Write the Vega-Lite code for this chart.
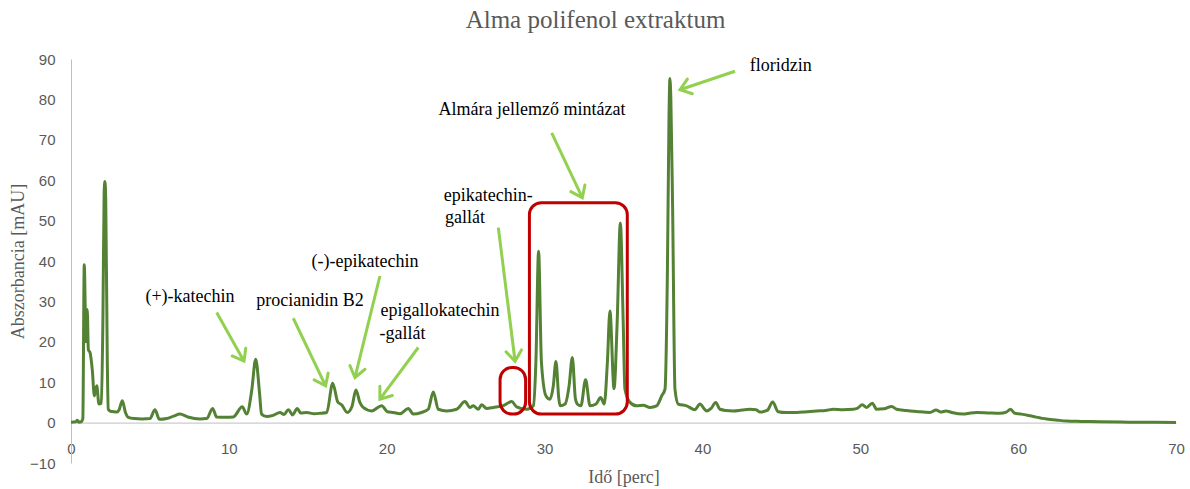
{
"$schema": "https://vega.github.io/schema/vega-lite/v6.json",
"width": 1105,
"height": 404,
"autosize": {"type": "none"},
"padding": {"left": 71, "top": 59, "right": 14, "bottom": 26},
"background": "white",
"config": {
  "view": {"stroke": null},
  "axis": {"grid": false, "ticks": false, "tickSize": 0, "domainColor": "#BFBFBF", "domainWidth": 1, "labelFlush": false,
           "labelFont": "Liberation Sans", "labelFontSize": 15, "labelColor": "#595959",
           "titleFont": "Liberation Serif", "titleFontSize": 18, "titleColor": "#595959", "titleFontWeight": "normal"}
},
"title": {"text": "Alma polifenol extraktum", "font": "Liberation Serif", "fontSize": 25, "fontWeight": "normal", "color": "#595959", "anchor": "middle", "frame": "group", "dx": -28, "offset": 19},
"datasets": {
  "trace": [
    {"t":0,"v":0.1},{"t":0.3,"v":0.2},{"t":0.4,"v":0.6},{"t":0.5,"v":0.1},{"t":0.65,"v":0.2},{"t":0.75,"v":1.0},
    {"t":0.84,"v":39.1},{"t":0.95,"v":20},{"t":1.03,"v":28},{"t":1.1,"v":18},{"t":1.2,"v":17.4},{"t":1.35,"v":13},
    {"t":1.48,"v":6.6},{"t":1.63,"v":9.1},{"t":1.77,"v":4.6},{"t":1.92,"v":4.8},{"t":2.02,"v":25},{"t":2.1,"v":57},
    {"t":2.15,"v":59.7},{"t":2.2,"v":55},{"t":2.3,"v":15},{"t":2.36,"v":3.3},{"t":2.5,"v":2.8},{"t":2.68,"v":2.7},
    {"t":2.9,"v":2.6},{"t":3.05,"v":3.2},{"t":3.25,"v":5.4},{"t":3.45,"v":2.5},{"t":3.63,"v":1.3},{"t":4.0,"v":1.0},
    {"t":4.5,"v":0.9},{"t":5.0,"v":1.0},{"t":5.32,"v":3.2},{"t":5.6,"v":0.8},{"t":6.06,"v":1.0},{"t":6.5,"v":1.6},
    {"t":6.9,"v":2.1},{"t":7.4,"v":1.4},{"t":8.17,"v":0.9},{"t":8.6,"v":1.0},{"t":8.97,"v":3.5},{"t":9.23,"v":1.4},
    {"t":9.8,"v":1.3},{"t":10.28,"v":1.4},{"t":10.85,"v":3.9},{"t":11.13,"v":2.1},{"t":11.45,"v":8},{"t":11.7,"v":15.7},
    {"t":11.95,"v":7},{"t":12.07,"v":2.1},{"t":12.39,"v":1.5},{"t":12.8,"v":1.8},{"t":13.24,"v":2.5},{"t":13.5,"v":2.0},
    {"t":13.77,"v":3.2},{"t":14.04,"v":1.9},{"t":14.33,"v":3.5},{"t":14.55,"v":2.4},{"t":14.93,"v":2.5},{"t":15.4,"v":2.2},
    {"t":15.78,"v":2.3},{"t":16.2,"v":2.5},{"t":16.58,"v":9.75},{"t":16.9,"v":5.1},{"t":17.15,"v":4.4},{"t":17.5,"v":2.5},
    {"t":17.8,"v":4},{"t":18.05,"v":8.1},{"t":18.3,"v":5},{"t":18.51,"v":3.75},{"t":19.05,"v":2.9},{"t":19.68,"v":4.2},
    {"t":20.04,"v":2.7},{"t":20.42,"v":2.5},{"t":20.84,"v":2.2},{"t":21.37,"v":3.5},{"t":21.68,"v":2.1},{"t":22.2,"v":2.5},
    {"t":22.63,"v":3.3},{"t":22.95,"v":7.6},{"t":23.27,"v":3.3},{"t":23.8,"v":2.9},{"t":24.43,"v":3.3},{"t":24.96,"v":5.2},
    {"t":25.27,"v":3.75},{"t":25.48,"v":4.2},{"t":25.8,"v":3.3},{"t":26.01,"v":4.4},{"t":26.33,"v":3.5},{"t":26.75,"v":3.75},
    {"t":27.39,"v":4.2},{"t":27.92,"v":5.2},{"t":28.23,"v":3.9},{"t":28.87,"v":3.3},{"t":29.29,"v":4.2},{"t":29.45,"v":15},
    {"t":29.62,"v":42.4},{"t":29.8,"v":15},{"t":30.09,"v":6.6},{"t":30.34,"v":5.8},{"t":30.55,"v":9},{"t":30.72,"v":15.1},
    {"t":30.9,"v":6},{"t":30.98,"v":4.15},{"t":31.3,"v":4.6},{"t":31.55,"v":9},{"t":31.76,"v":16.1},{"t":31.95,"v":6},
    {"t":32.07,"v":4.6},{"t":32.3,"v":4.15},{"t":32.6,"v":10.6},{"t":32.88,"v":4.15},{"t":33.26,"v":4.6},{"t":33.55,"v":6.2},
    {"t":33.78,"v":4.6},{"t":33.98,"v":15},{"t":34.14,"v":27.6},{"t":34.4,"v":8.4},{"t":34.6,"v":25},{"t":34.8,"v":49.4},
    {"t":34.98,"v":25},{"t":35.09,"v":8.3},{"t":35.41,"v":5},{"t":35.83,"v":4.15},{"t":36.25,"v":4.3},{"t":36.68,"v":3.75},
    {"t":37.1,"v":4.15},{"t":37.42,"v":6.6},{"t":37.63,"v":8.3},{"t":37.78,"v":37},{"t":37.88,"v":75},{"t":37.94,"v":85.2},
    {"t":38.0,"v":80},{"t":38.11,"v":53.5},{"t":38.26,"v":8.3},{"t":38.47,"v":4.6},{"t":39.0,"v":4.15},{"t":39.53,"v":3.2},
    {"t":39.84,"v":4.6},{"t":40.16,"v":3.2},{"t":40.27,"v":2.9},{"t":40.55,"v":3.5},{"t":40.84,"v":5},{"t":41.11,"v":3.3},
    {"t":41.5,"v":3.0},{"t":41.95,"v":2.9},{"t":42.5,"v":3.1},{"t":43.01,"v":3.3},{"t":43.4,"v":3.2},{"t":43.65,"v":2.6},
    {"t":44.1,"v":3.0},{"t":44.45,"v":5.1},{"t":44.8,"v":2.7},{"t":45.3,"v":2.5},{"t":45.97,"v":2.5},{"t":46.6,"v":2.7},
    {"t":47.23,"v":2.9},{"t":47.8,"v":3.0},{"t":48.29,"v":3.3},{"t":48.9,"v":3.2},{"t":49.56,"v":3.3},{"t":49.8,"v":3.5},
    {"t":50.13,"v":4.4},{"t":50.4,"v":3.75},{"t":50.76,"v":4.8},{"t":51.04,"v":3.3},{"t":51.5,"v":3.4},{"t":51.99,"v":4.0},
    {"t":52.3,"v":3.3},{"t":52.9,"v":3.0},{"t":53.57,"v":2.75},{"t":54.41,"v":2.5},{"t":54.8,"v":3.1},{"t":55.1,"v":2.6},
    {"t":55.43,"v":2.9},{"t":55.8,"v":2.5},{"t":56.52,"v":2.1},{"t":57.0,"v":2.4},{"t":57.37,"v":2.5},{"t":58.1,"v":2.4},
    {"t":58.85,"v":2.3},{"t":59.25,"v":2.6},{"t":59.52,"v":3.3},{"t":59.79,"v":2.3},{"t":60.2,"v":2.1},{"t":60.96,"v":1.5},
    {"t":61.8,"v":0.9},{"t":62.5,"v":0.6},{"t":63.07,"v":0.4},{"t":64.0,"v":0.3},{"t":65.2,"v":0.2},{"t":67,"v":0.1},{"t":70,"v":0.05}
  ],
  "boxes": [
    {"t":27.18,"t2":28.8,"v":13.65,"v2":2.1},
    {"t":29.04,"t2":35.24,"v":54.44,"v2":2.1}
  ],
  "arrows": [
    {"t":9.23,"v":27.24,"t2":10.96,"v2":15.2},
    {"t":14.08,"v":25.83,"t2":16.13,"v2":9.1},
    {"t":19.57,"v":36.29,"t2":17.99,"v2":11.17},
    {"t":22.0,"v":18.59,"t2":19.57,"v2":5.81},
    {"t":27.07,"v":48.26,"t2":28.13,"v2":15.2},
    {"t":30.45,"v":71.74,"t2":32.39,"v2":55.67},
    {"t":42.06,"v":86.97,"t2":38.58,"v2":82.4}
  ],
  "labels": [
    {"t":7.54,"v":31.03,"label":"(+)-katechin"},
    {"t":15.14,"v":30.04,"label":"procianidin B2"},
    {"t":18.62,"v":39.68,"label":"(-)-epikatechin"},
    {"t":23.38,"v":27.56,"label":"epigallokatechin"},
    {"t":21.0,"v":21.88,"label":"-gallát"},
    {"t":26.43,"v":56.0,"label":"epikatechin-"},
    {"t":24.96,"v":50.56,"label":"gallát"},
    {"t":29.2,"v":77.26,"label":"Almára jellemző mintázat"},
    {"t":44.96,"v":88.38,"label":"floridzin"}
  ]
},
"layer": [
  {
    "data": {"name": "trace"},
    "mark": {"type": "line", "color": "#548235", "strokeWidth": 3, "interpolate": "monotone"},
    "encoding": {
      "x": {"field": "t", "type": "quantitative", "scale": {"domain": [0, 70], "nice": false, "zero": false},
            "axis": {"title": "Idő [perc]", "values": [0,10,20,30,40,50,60,70], "offset": -40.4, "labelPadding": 19, "titlePadding": 12, "labelFlush": false}},
      "y": {"field": "v", "type": "quantitative", "scale": {"domain": [-10, 90], "nice": false, "zero": false},
            "axis": {"title": "Abszorbancia [mAU]", "values": [-10,0,10,20,30,40,50,60,70,80,90], "labelPadding": 16, "titlePadding": 2, "labelFlush": false}}
    }
  },
  {
    "data": {"name": "boxes"},
    "mark": {"type": "rect", "filled": false, "stroke": "#C00000", "strokeWidth": 3, "cornerRadius": 12},
    "encoding": {
      "x": {"field": "t", "type": "quantitative", "scale": {"domain": [0, 70], "nice": false, "zero": false}},
      "x2": {"field": "t2"},
      "y": {"field": "v", "type": "quantitative", "scale": {"domain": [-10, 90], "nice": false, "zero": false}},
      "y2": {"field": "v2"}
    }
  },
  {
    "data": {"name": "arrows"},
    "mark": {"type": "rule", "stroke": "#92D050", "strokeWidth": 3},
    "encoding": {
      "x": {"field": "t", "type": "quantitative", "scale": {"domain": [0, 70], "nice": false, "zero": false}},
      "x2": {"field": "t2"},
      "y": {"field": "v", "type": "quantitative", "scale": {"domain": [-10, 90], "nice": false, "zero": false}},
      "y2": {"field": "v2"}
    }
  },
  {
    "data": {"name": "arrows"},
    "transform": [{"calculate": "atan2(-(datum.v2 - datum.v) * 4.04, (datum.t2 - datum.t) * 15.786) * 180 / PI", "as": "ang"}],
    "mark": {"type": "point", "shape": "M-1,-0.75L0,0L-1,0.75", "filled": false, "stroke": "#92D050", "strokeWidth": 3, "size": 430, "opacity": 1, "strokeCap": "round", "strokeJoin": "miter"},
    "encoding": {
      "x": {"field": "t2", "type": "quantitative", "scale": {"domain": [0, 70], "nice": false, "zero": false}},
      "y": {"field": "v2", "type": "quantitative", "scale": {"domain": [-10, 90], "nice": false, "zero": false}},
      "angle": {"field": "ang", "type": "quantitative", "scale": null}
    }
  },
  {
    "data": {"name": "labels"},
    "mark": {"type": "text", "font": "Liberation Serif", "fontSize": 18, "color": "black", "align": "center", "baseline": "middle"},
    "encoding": {
      "x": {"field": "t", "type": "quantitative", "scale": {"domain": [0, 70], "nice": false, "zero": false}},
      "y": {"field": "v", "type": "quantitative", "scale": {"domain": [-10, 90], "nice": false, "zero": false}},
      "text": {"field": "label", "type": "nominal"}
    }
  }
]
}
